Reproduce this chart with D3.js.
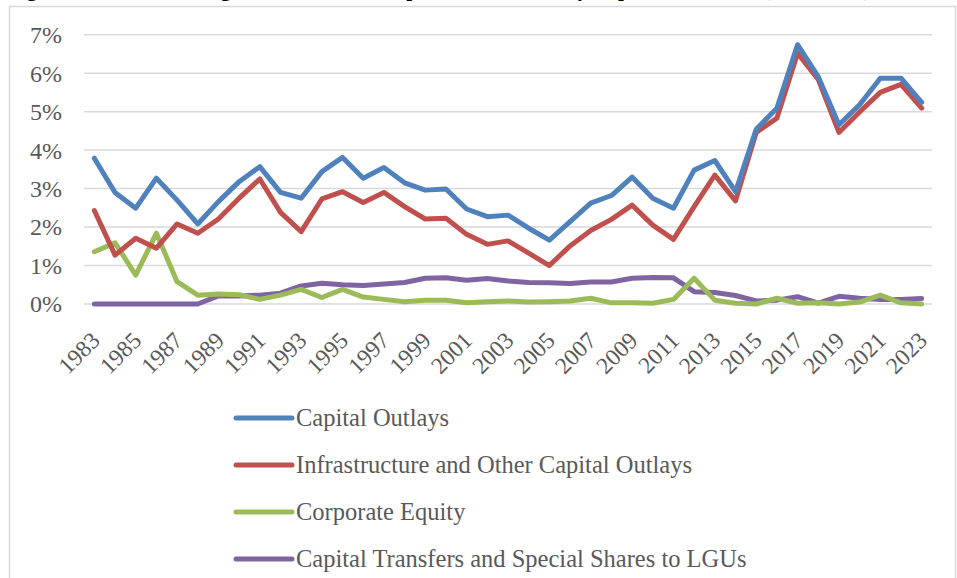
<!DOCTYPE html>
<html>
<head>
<meta charset="utf-8">
<script src="https://cdn.jsdelivr.net/npm/d3@7/dist/d3.min.js"></script>
<style>
  html, body { margin: 0; padding: 0; background: #fff; }
  svg { display: block; }
  text { font-family: "Liberation Serif", "DejaVu Serif", serif; }
</style>
</head>
<body>
<div id="chart"></div>
<script>
// ── data (share of GDP, %) ─────────────────────────────────
const years = [1983, 1984, 1985, 1986, 1987, 1988, 1989, 1990, 1991, 1992,
  1993, 1994, 1995, 1996, 1997, 1998, 1999, 2000, 2001, 2002,
  2003, 2004, 2005, 2006, 2007, 2008, 2009, 2010, 2011, 2012,
  2013, 2014, 2015, 2016, 2017, 2018, 2019, 2020, 2021, 2022, 2023];

const capitalOutlays = [3.79, 2.90, 2.49, 3.27, 2.70, 2.08, 2.66, 3.18, 3.57, 2.90,
  2.75, 3.44, 3.81, 3.27, 3.55, 3.15, 2.96, 2.99, 2.47, 2.27,
  2.31, 1.97, 1.66, 2.14, 2.62, 2.82, 3.30, 2.75, 2.49, 3.48,
  3.73, 2.92, 4.54, 5.09, 6.74, 5.91, 4.66, 5.18, 5.87, 5.87, 5.24];

const infraOutlays = [2.43, 1.27, 1.71, 1.45, 2.08, 1.84, 2.21, 2.75, 3.25, 2.38,
  1.88, 2.73, 2.92, 2.64, 2.90, 2.53, 2.21, 2.23, 1.81, 1.55,
  1.64, 1.32, 1.00, 1.51, 1.91, 2.20, 2.57, 2.05, 1.68, 2.53,
  3.35, 2.68, 4.46, 4.83, 6.52, 5.84, 4.46, 4.99, 5.50, 5.71, 5.09];

const corporateEquity = [1.36, 1.59, 0.75, 1.84, 0.58, 0.23, 0.26, 0.24, 0.12, 0.23,
  0.38, 0.17, 0.38, 0.18, 0.12, 0.06, 0.10, 0.10, 0.03, 0.06,
  0.08, 0.05, 0.06, 0.08, 0.15, 0.03, 0.03, 0.02, 0.12, 0.67,
  0.10, 0.02, 0.00, 0.15, 0.02, 0.03, 0.00, 0.05, 0.23, 0.03, 0.00];

const transfersLGU = [0.00, 0.00, 0.00, 0.00, 0.00, 0.00, 0.21, 0.21, 0.23, 0.28,
  0.47, 0.54, 0.50, 0.48, 0.52, 0.56, 0.67, 0.68, 0.62, 0.66,
  0.60, 0.56, 0.55, 0.53, 0.57, 0.57, 0.67, 0.69, 0.68, 0.32,
  0.30, 0.22, 0.08, 0.10, 0.19, 0.02, 0.20, 0.15, 0.12, 0.12, 0.14];

const yTicks = [0, 1, 2, 3, 4, 5, 6, 7];

const seriesNames = [
  "Capital Outlays",
  "Infrastructure and Other Capital Outlays",
  "Corporate Equity",
  "Capital Transfers and Special Shares to LGUs"
];
const seriesColors = ["#4F81BD", "#C0504D", "#9BBB59", "#8064A2"];

// only the bottom edge of the caption shows in the original
const titleText = "Figure 5. Trends in Budget Allocation for Capital Investments by Expenditure Class (% of GDP)";

// ── layout ────────────────────────────────────────────────
const W = 957, H = 578;
const plot = { left: 84, right: 932, top: 34.7, bottom: 304 };
const textGray = "#595959";

const svg = d3.select("#chart").append("svg").attr("width", W).attr("height", H);

// outer chart frame
svg.append("rect")
  .attr("x", 9.5).attr("y", 6.5)
  .attr("width", 946).attr("height", 600)
  .attr("fill", "none")
  .attr("stroke", "#d9d9d9")
  .attr("stroke-width", 1.5);

svg.append("text")
  .attr("x", 8).attr("y", -4.5)
  .attr("font-size", 21).attr("font-weight", "bold")
  .attr("fill", "#000")
  .text(titleText);

const x = d3.scalePoint().domain(years).range([plot.left, plot.right]).padding(0.5);
const y = d3.scaleLinear().domain([0, 7]).range([plot.bottom, plot.top]);

// gridlines
svg.append("g").selectAll("line").data(yTicks).join("line")
  .attr("x1", plot.left).attr("x2", plot.right)
  .attr("y1", d => y(d)).attr("y2", d => y(d))
  .attr("stroke", "#d9d9d9").attr("stroke-width", 1.5);

// y labels
const yAxis = d3.axisLeft(y).tickValues(yTicks).tickFormat(d => d + "%").tickSize(0).tickPadding(0);
const gy = svg.append("g").attr("transform", `translate(62,0)`).call(yAxis);
gy.select(".domain").remove();
gy.selectAll("text")
  .attr("font-family", "Liberation Serif, serif")
  .attr("font-size", 24).attr("fill", textGray).attr("dy", "0.33em");

// x labels (every other year, rotated)
const xLabels = years.filter((d, i) => i % 2 === 0);
svg.append("g").selectAll("text").data(xLabels).join("text")
  .attr("transform", d => `translate(${x(d) + 7},${342}) rotate(-45)`)
  .attr("text-anchor", "end")
  .attr("font-size", 23.5).attr("fill", textGray)
  .text(d => d);

// lines
const allSeries = [capitalOutlays, infraOutlays, corporateEquity, transfersLGU];
const line = d3.line()
  .x((d, i) => x(years[i]))
  .y(d => y(d));

// purple drawn first, blue last, so blue sits on top like the original
const order = [3, 2, 1, 0];
svg.append("g").selectAll("path").data(order).join("path")
  .attr("d", k => line(allSeries[k]))
  .attr("fill", "none")
  .attr("stroke", k => seriesColors[k])
  .attr("stroke-width", 5)
  .attr("stroke-linejoin", "round")
  .attr("stroke-linecap", "round");

// legend
const legendTop = 418, legendStep = 47;
const lg = svg.append("g").selectAll("g").data(seriesNames).join("g")
  .attr("transform", (d, i) => `translate(236,${legendTop + i * legendStep})`);
lg.append("line")
  .attr("x1", 0).attr("x2", 56)
  .attr("stroke", (d, i) => seriesColors[i])
  .attr("stroke-width", 5).attr("stroke-linecap", "round");
lg.append("text")
  .attr("x", 60).attr("dy", "0.33em")
  .attr("font-size", 24.5).attr("fill", textGray)
  .text(d => d);
</script>
</body>
</html>
